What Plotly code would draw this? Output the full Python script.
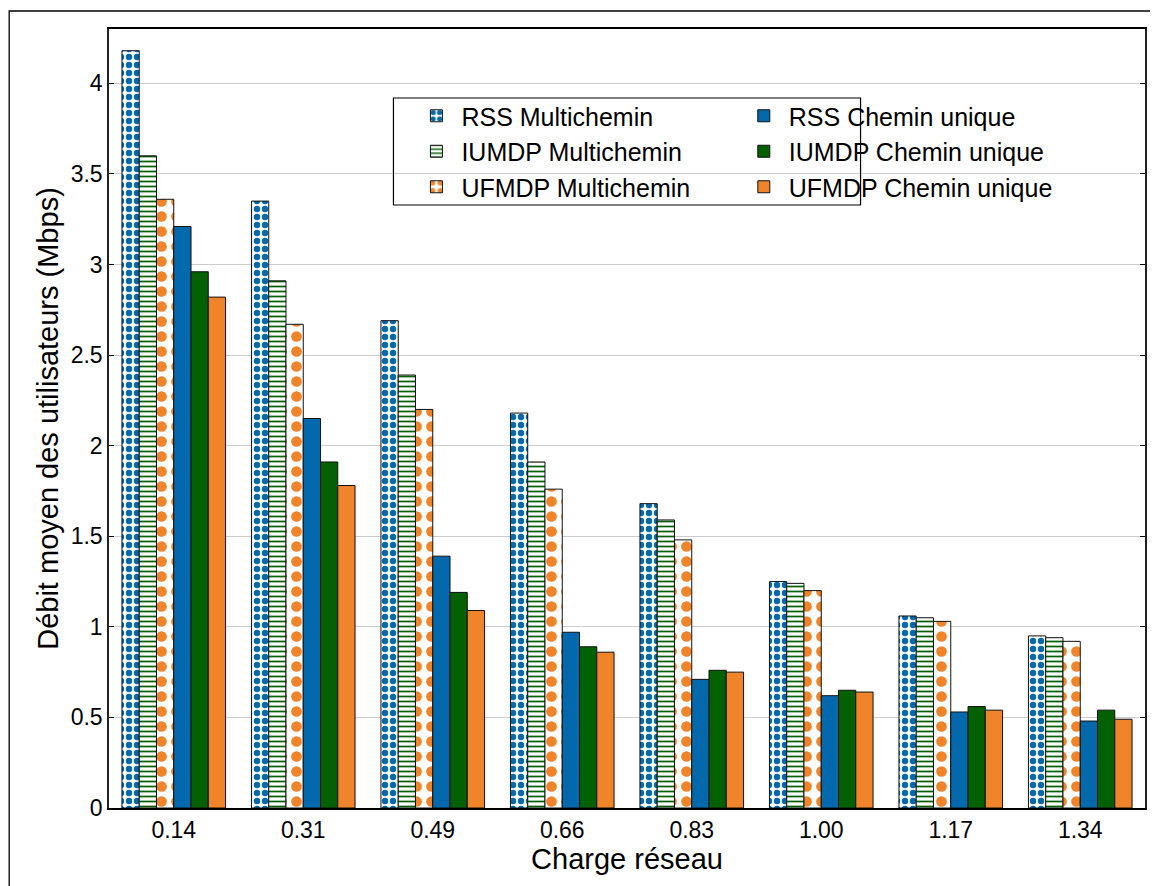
import plotly.graph_objects as go

categories = ["0.14", "0.31", "0.49", "0.66", "0.83", "1.00", "1.17", "1.34"]
rss_multi = [4.18, 3.35, 2.69, 2.18, 1.68, 1.25, 1.06, 0.95]
iumdp_multi = [3.60, 2.91, 2.39, 1.91, 1.59, 1.24, 1.05, 0.94]
ufmdp_multi = [3.36, 2.67, 2.20, 1.76, 1.48, 1.20, 1.03, 0.92]
rss_single = [3.21, 2.15, 1.39, 0.97, 0.71, 0.62, 0.53, 0.48]
iumdp_single = [2.96, 1.91, 1.19, 0.89, 0.76, 0.65, 0.56, 0.54]
ufmdp_single = [2.82, 1.78, 1.09, 0.86, 0.75, 0.64, 0.54, 0.49]

names = ["RSS Multichemin", "IUMDP Multichemin", "UFMDP Multichemin",
         "RSS Chemin unique", "IUMDP Chemin unique", "UFMDP Chemin unique"]
series = [rss_multi, iumdp_multi, ufmdp_multi, rss_single, iumdp_single, ufmdp_single]

BLUE = "#0468ac"
GREEN = "#036003"
ORANGE = "#ef842a"
FONT = "Arial, Liberation Sans, sans-serif"

styles = [
    dict(color="white", pattern=dict(shape=".", fgcolor=BLUE, bgcolor="white", size=8,
                                     solidity=0.5, fgopacity=1)),
    dict(color="white", pattern=dict(shape="-", fgcolor=GREEN, bgcolor="white", size=5,
                                     solidity=0.35, fgopacity=1)),
    dict(color="white", pattern=dict(shape=".", fgcolor=ORANGE, bgcolor="white", size=15,
                                     solidity=0.4, fgopacity=1)),
    dict(color=BLUE),
    dict(color=GREEN),
    dict(color=ORANGE),
]

# page is offset by the 8px body margin, so figure is 1150x878
W, H = 1150, 878
ML, MR, MT, MB = 101, 11, 21, 78
PW, PH = W - ML - MR, H - MT - MB


def px(x):
    return (x - ML) / PW


def py(y):
    return (H - MB - y) / PH


fig = go.Figure()
for i, (nm, vals, st) in enumerate(zip(names, series, styles)):
    marker = dict(line=dict(color="#111111", width=1), **st)
    fig.add_trace(go.Bar(
        x=categories, y=vals, name=nm, marker=marker,
        legend="legend" if i < 3 else "legend2",
    ))

leg_common = dict(yanchor="top", xanchor="left", bgcolor="rgba(0,0,0,0)", borderwidth=0,
                  font=dict(size=25, family=FONT), itemwidth=40, tracegroupgap=0)

fig.update_layout(
    width=W, height=H,
    margin=dict(l=ML, r=MR, t=MT, b=MB),
    paper_bgcolor="white", plot_bgcolor="white",
    font=dict(family=FONT, color="black", size=23),
    barmode="group", bargap=0.2, bargroupgap=0,
    showlegend=True,
    legend=dict(x=px(404), y=py(85), **leg_common),
    legend2=dict(x=px(732), y=py(85), **leg_common),
    xaxis=dict(
        type="category", showline=True, linecolor="black", linewidth=2,
        mirror=True, ticks="", showgrid=False,
        tickfont=dict(size=23, family=FONT),
        title=dict(text="Charge réseau", font=dict(size=29, family=FONT), standoff=0),
    ),
    yaxis=dict(
        range=[0, 4.3], tickvals=[0, 0.5, 1, 1.5, 2, 2.5, 3, 3.5, 4],
        ticktext=["0", "0.5", "1", "1.5", "2", "2.5", "3", "3.5", "4"],
        showline=True, linecolor="#222222", linewidth=1.5, mirror="ticks",
        ticks="inside", ticklen=5, tickcolor="black",
        showgrid=True, gridcolor="#cccccc", gridwidth=1, zeroline=False,
        tickfont=dict(size=23, family=FONT),
        title=dict(text="Débit moyen des utilisateurs (Mbps)", font=dict(size=29, family=FONT), standoff=4),
    ),
    shapes=[
        # legend box
        dict(type="rect", xref="paper", yref="paper",
             x0=px(386), x1=px(854), y0=py(197), y1=py(90),
             line=dict(color="black", width=1.2), fillcolor="rgba(0,0,0,0)", layer="above"),
        # outer frame
        dict(type="rect", xref="paper", yref="paper",
             x0=px(1), x1=px(1200), y0=py(900), y1=py(3),
             line=dict(color="black", width=1.3), fillcolor="rgba(0,0,0,0)", layer="below"),
    ],
)

fig.write_html("out.html")
